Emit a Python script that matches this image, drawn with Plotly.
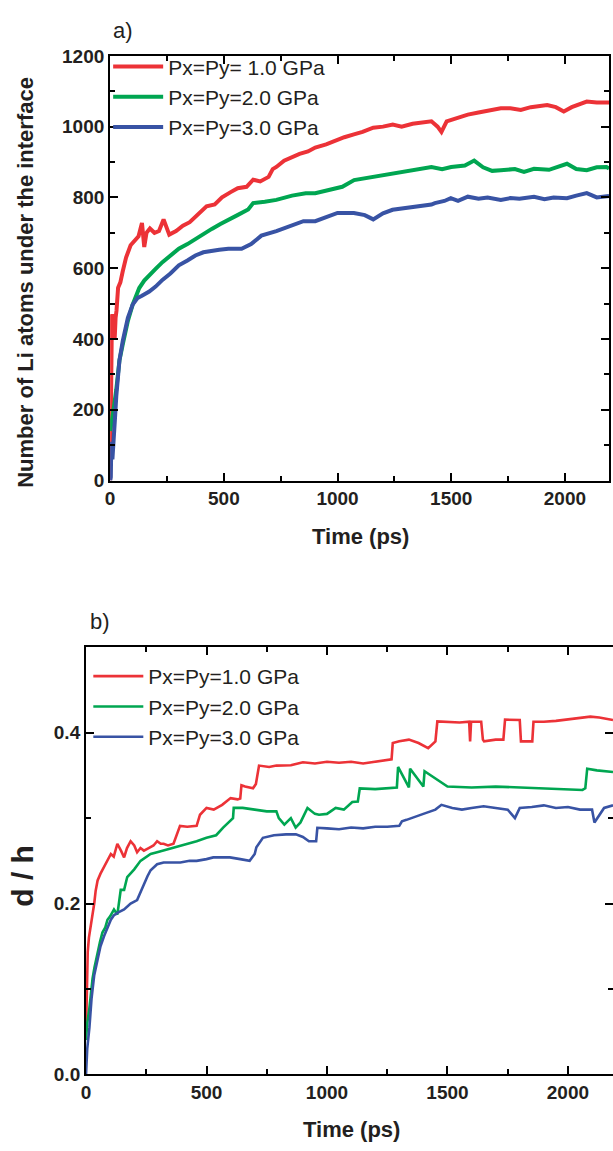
import plotly.graph_objects as go

# ---------------- Panel a data (Number of Li atoms under the interface) ----------------
t_a_1GPa = [0, 2, 4, 6, 8, 10, 13, 17, 20, 24, 28, 35, 45, 55, 70, 90, 110, 125, 140, 150,
            160, 175, 195, 215, 235, 260, 290, 320, 350, 380, 424, 460, 492, 530, 561, 600, 629, 660, 697, 715,
            731, 765, 800, 833, 870, 902, 950, 987, 1030, 1072, 1110, 1157, 1200, 1243, 1282, 1330, 1370, 1413, 1440, 1457,
            1480, 1530, 1573, 1620, 1670, 1718, 1760, 1806, 1850, 1890, 1922, 1960, 1995, 2030, 2060, 2096, 2140, 2183, 2194]
n_a_1GPa = [0, 120, 260, 380, 470, 430, 470, 440, 400, 460, 480, 545, 560, 590, 630, 665, 680, 690, 728, 660,
            700, 712, 700, 705, 738, 695, 705, 720, 730, 748, 775, 780, 800, 815, 826, 830, 850, 845, 858, 880,
            886, 904, 915, 923, 930, 941, 950, 960, 970, 978, 985, 997, 1000, 1006, 1000, 1008, 1012, 1015, 1000, 985,
            1015, 1025, 1034, 1040, 1045, 1052, 1052, 1047, 1055, 1058, 1061, 1055, 1043, 1055, 1062, 1071, 1068, 1066, 1068]

t_a_2GPa = [0, 3, 8, 15, 27, 41, 56, 78, 99, 115, 128, 150, 172, 200, 230, 265, 302, 340, 375, 410,
            447, 485, 520, 560, 607, 629, 680, 731, 800, 860, 902, 960, 1021, 1073, 1150, 1243, 1282, 1330, 1413, 1460,
            1500, 1560, 1601, 1640, 1680, 1718, 1780, 1820, 1864, 1930, 1970, 2009, 2050, 2096, 2140, 2183, 2194]
n_a_2GPa = [140, 150, 170, 200, 257, 340, 386, 451, 497, 525, 544, 565, 581, 598, 617, 635, 655, 668, 683, 698,
            711, 725, 738, 750, 766, 784, 788, 793, 805, 812, 812, 822, 830, 849, 858, 867, 872, 878, 886, 880,
            886, 890, 904, 885, 875, 877, 880, 872, 881, 878, 888, 895, 880, 877, 885, 886, 882]

t_a_3GPa = [0, 3, 5, 7, 10, 15, 22, 27, 35, 41, 56, 78, 99, 121, 140, 172, 200, 230, 265, 302,
            340, 375, 410, 447, 480, 520, 578, 620, 665, 731, 800, 850, 902, 960, 1000, 1072, 1120, 1157, 1200, 1242,
            1300, 1350, 1413, 1428, 1470, 1498, 1530, 1573, 1620, 1660, 1718, 1760, 1800, 1864, 1910, 1950, 2009, 2050, 2096, 2140,
            2183, 2194]
n_a_3GPa = [0, 10, 100, 109, 60, 131, 183, 238, 300, 340, 396, 460, 497, 516, 522, 534, 548, 567, 585, 608,
            622, 636, 645, 650, 652, 655, 655, 668, 692, 705, 722, 733, 733, 745, 756, 756, 750, 738, 755, 765,
            770, 775, 780, 784, 790, 798, 790, 802, 796, 800, 793, 798, 796, 802, 795, 800, 798, 805, 812, 800,
            802, 804]

# ---------------- Panel b data (d / h) ----------------
t_b_1GPa = [0, 3, 7, 12, 18, 23, 28, 34, 40, 48, 60, 75, 90, 103, 115, 130, 145, 158, 170, 185,
            200, 212, 226, 240, 260, 280, 295, 310, 322, 340, 363, 380, 390, 420, 459, 473, 500, 530, 565, 600,
            629, 640, 645, 660, 693, 705, 718, 760, 790, 850, 900, 950, 1000, 1050, 1100, 1150, 1200, 1257, 1268, 1273,
            1300, 1340, 1380, 1420, 1450, 1458, 1500, 1550, 1590, 1594, 1598, 1640, 1647, 1652, 1700, 1732, 1739, 1770, 1800, 1805,
            1830, 1852, 1857, 1900, 1950, 2000, 2050, 2093, 2130, 2187]
dh_b_1GPa = [0.05, 0.08, 0.143, 0.16, 0.17, 0.177, 0.19, 0.2, 0.215, 0.227, 0.235, 0.243, 0.25, 0.258, 0.255, 0.27, 0.262, 0.254, 0.265, 0.273,
             0.268, 0.26, 0.265, 0.262, 0.265, 0.268, 0.273, 0.27, 0.27, 0.268, 0.27, 0.282, 0.291, 0.29, 0.291, 0.304, 0.312, 0.31, 0.3156, 0.3235,
             0.322, 0.323, 0.3386, 0.337, 0.335, 0.34, 0.3616, 0.36, 0.3616, 0.362, 0.3655, 0.364, 0.366, 0.365, 0.366, 0.364, 0.366, 0.369, 0.369, 0.388,
             0.39, 0.392, 0.388, 0.382, 0.39, 0.4134, 0.413, 0.412, 0.413, 0.39, 0.413, 0.413, 0.392, 0.39, 0.392, 0.392, 0.4154, 0.415, 0.415, 0.39,
             0.39, 0.39, 0.413, 0.413, 0.414, 0.416, 0.418, 0.419, 0.418, 0.415]

t_b_2GPa = [0, 5, 14, 20, 27, 35, 48, 58, 68, 80, 89, 100, 116, 130, 144, 158, 171, 185, 200, 226,
            250, 268, 295, 322, 360, 391, 430, 459, 500, 540, 569, 590, 610, 613, 650, 700, 750, 790, 800, 823,
            850, 870, 890, 919, 950, 967, 1000, 1036, 1070, 1105, 1128, 1136, 1200, 1290, 1295, 1340, 1345, 1400, 1405, 1500,
            1600, 1700, 1800, 1900, 2000, 2060, 2072, 2080, 2120, 2187]
dh_b_2GPa = [0.04, 0.06, 0.0775, 0.095, 0.112, 0.125, 0.143, 0.155, 0.166, 0.172, 0.181, 0.185, 0.193, 0.187, 0.216, 0.216, 0.231, 0.235, 0.24, 0.25,
             0.255, 0.258, 0.26, 0.262, 0.265, 0.2675, 0.27, 0.273, 0.277, 0.28, 0.289, 0.295, 0.30, 0.312, 0.312, 0.31, 0.308, 0.308, 0.30, 0.2925,
             0.30, 0.289, 0.295, 0.312, 0.305, 0.304, 0.305, 0.312, 0.31, 0.319, 0.3194, 0.3348, 0.334, 0.336, 0.36, 0.336, 0.358, 0.337, 0.355, 0.337,
             0.336, 0.337, 0.336, 0.335, 0.334, 0.333, 0.335, 0.358, 0.356, 0.354]

t_b_3GPa = [0, 5, 14, 23, 34, 48, 60, 75, 90, 103, 115, 130, 158, 185, 212, 240, 255, 268, 295, 322,
            350, 391, 430, 459, 500, 528, 560, 597, 640, 679, 700, 707, 734, 780, 830, 871, 900, 925, 955, 960,
            1000, 1050, 1100, 1150, 1200, 1250, 1300, 1311, 1330, 1352, 1400, 1450, 1475, 1520, 1560, 1600, 1650, 1700, 1750, 1780,
            1800, 1850, 1900, 1950, 2000, 2050, 2100, 2110, 2150, 2187]
dh_b_3GPa = [0, 0.03, 0.0545, 0.089, 0.116, 0.135, 0.15, 0.162, 0.172, 0.181, 0.186, 0.189, 0.193, 0.2, 0.204, 0.223, 0.232, 0.239, 0.246, 0.248,
             0.248, 0.248, 0.25, 0.25, 0.252, 0.254, 0.254, 0.254, 0.252, 0.25, 0.258, 0.266, 0.277, 0.28, 0.281, 0.281, 0.278, 0.273, 0.273, 0.2887,
             0.288, 0.287, 0.289, 0.288, 0.29, 0.29, 0.291, 0.2964, 0.298, 0.30, 0.305, 0.31, 0.3156, 0.312, 0.31, 0.312, 0.314, 0.312, 0.31, 0.30,
             0.312, 0.313, 0.315, 0.312, 0.313, 0.31, 0.31, 0.295, 0.312, 0.315]

names_a = ["Px=Py= 1.0 GPa", "Px=Py=2.0 GPa", "Px=Py=3.0 GPa"]
names_b = ["Px=Py=1.0 GPa", "Px=Py=2.0 GPa", "Px=Py=3.0 GPa"]
colors = ["#EC3237", "#00A651", "#3853A4"]

W, H = 613, 1151
FONT = "Arial, 'Liberation Sans', sans-serif"

fig = go.Figure()
for t, v, nm, c in zip([t_a_1GPa, t_a_2GPa, t_a_3GPa], [n_a_1GPa, n_a_2GPa, n_a_3GPa], names_a, colors):
    fig.add_trace(go.Scatter(x=t, y=v, mode="lines", name=nm, line=dict(color=c, width=4),
                             xaxis="x", yaxis="y", legend="legend"))
for t, v, nm, c in zip([t_b_1GPa, t_b_2GPa, t_b_3GPa], [dh_b_1GPa, dh_b_2GPa, dh_b_3GPa], names_b, colors):
    fig.add_trace(go.Scatter(x=t, y=v, mode="lines", name=nm, line=dict(color=c, width=2.6),
                             xaxis="x2", yaxis="y2", legend="legend2"))
# empty helper trace so the right-hand tick axis of panel b is drawn
fig.add_trace(go.Scatter(x=[], y=[], xaxis="x2", yaxis="y3", showlegend=False, hoverinfo="skip"))

tickfont = dict(family=FONT, size=19, color="#231F20", weight="bold")
common = dict(ticks="inside", ticklen=8, tickwidth=2, tickcolor="black", showline=True, linewidth=2,
              linecolor="black", showgrid=False, zeroline=False, tickfont=tickfont)

fig.update_layout(
    width=W, height=H, paper_bgcolor="white", plot_bgcolor="white",
    margin=dict(l=0, r=0, t=0, b=0), showlegend=True,
    xaxis=dict(domain=[106 / W, 609 / W], anchor="y", range=[0, 2194], tick0=0, dtick=500, mirror="ticks",
               minor=dict(dtick=250, ticks="inside", ticklen=5, tickwidth=2, tickcolor="black"), **common),
    yaxis=dict(domain=[1 - 479.3 / H, 1 - 46.7 / H], anchor="x", range=[0, 1200], tick0=0, dtick=200, mirror="ticks",
               minor=dict(dtick=100, ticks="inside", ticklen=5, tickwidth=2, tickcolor="black"), **common),
    xaxis2=dict(domain=[81.7 / W, 1.0], anchor="y2", range=[0, 2187], tick0=0, dtick=500, mirror="ticks",
                minor=dict(dtick=250, ticks="inside", ticklen=5, tickwidth=2, tickcolor="black"), **common),
    yaxis2=dict(domain=[1 - 1084 / H, 1 - 649.3 / H], anchor="x2", range=[0, 0.5], tick0=0, dtick=0.2,
                tickformat=".1f", mirror=False,
                minor=dict(dtick=0.1, ticks="inside", ticklen=5, tickwidth=2, tickcolor="black"), **common),
    yaxis3=dict(overlaying="y2", anchor="x2", side="right", range=[0, 0.5], tick0=0, dtick=0.2,
                ticks="inside", ticklen=8, tickwidth=2, tickcolor="black", showline=False, showgrid=False,
                zeroline=False, showticklabels=False,
                minor=dict(dtick=0.1, ticks="inside", ticklen=5, tickwidth=2, tickcolor="black")),
    legend=dict(x=104 / W, y=1 - 37 / H, xanchor="left", yanchor="top", bgcolor="rgba(0,0,0,0)",
                font=dict(family=FONT, size=21, color="#231F20"), itemwidth=50, tracegroupgap=0),
    legend2=dict(x=84 / W, y=1 - 658 / H, xanchor="left", yanchor="top", bgcolor="rgba(0,0,0,0)",
                 font=dict(family=FONT, size=21, color="#231F20"), itemwidth=50, tracegroupgap=0),
)

ann_font_b = dict(family=FONT, size=22, color="#231F20", weight="bold")
fig.add_annotation(text="a)", x=107 / W, y=1 - 21 / H, xref="paper", yref="paper", xanchor="left",
                   yanchor="middle", showarrow=False, font=dict(family=FONT, size=22, color="#231F20"))
fig.add_annotation(text="b)", x=84 / W, y=1 - 623 / H, xref="paper", yref="paper", xanchor="left",
                   yanchor="middle", showarrow=False, font=dict(family=FONT, size=22, color="#231F20"))
fig.add_annotation(text="Time (ps)", x=358 / W, y=1 - 536 / H, xref="paper", yref="paper", xanchor="center",
                   yanchor="middle", showarrow=False, font=ann_font_b)
fig.add_annotation(text="Time (ps)", x=349 / W, y=1 - 1140 / H, xref="paper", yref="paper", xanchor="center",
                   yanchor="middle", showarrow=False, font=ann_font_b)
fig.add_annotation(text="Number of Li atoms under the interface", x=21 / W, y=1 - 277 / H, xref="paper",
                   yref="paper", xanchor="center", yanchor="middle", textangle=-90, showarrow=False, font=ann_font_b)
fig.add_annotation(text="d / h", x=18 / W, y=1 - 882 / H, xref="paper", yref="paper", xanchor="center",
                   yanchor="middle", textangle=-90, showarrow=False,
                   font=dict(family=FONT, size=30, color="#231F20", weight="bold"))

fig.write_html("out.html", config={"displayModeBar": False},
               post_script="document.body.style.margin='0px';")
